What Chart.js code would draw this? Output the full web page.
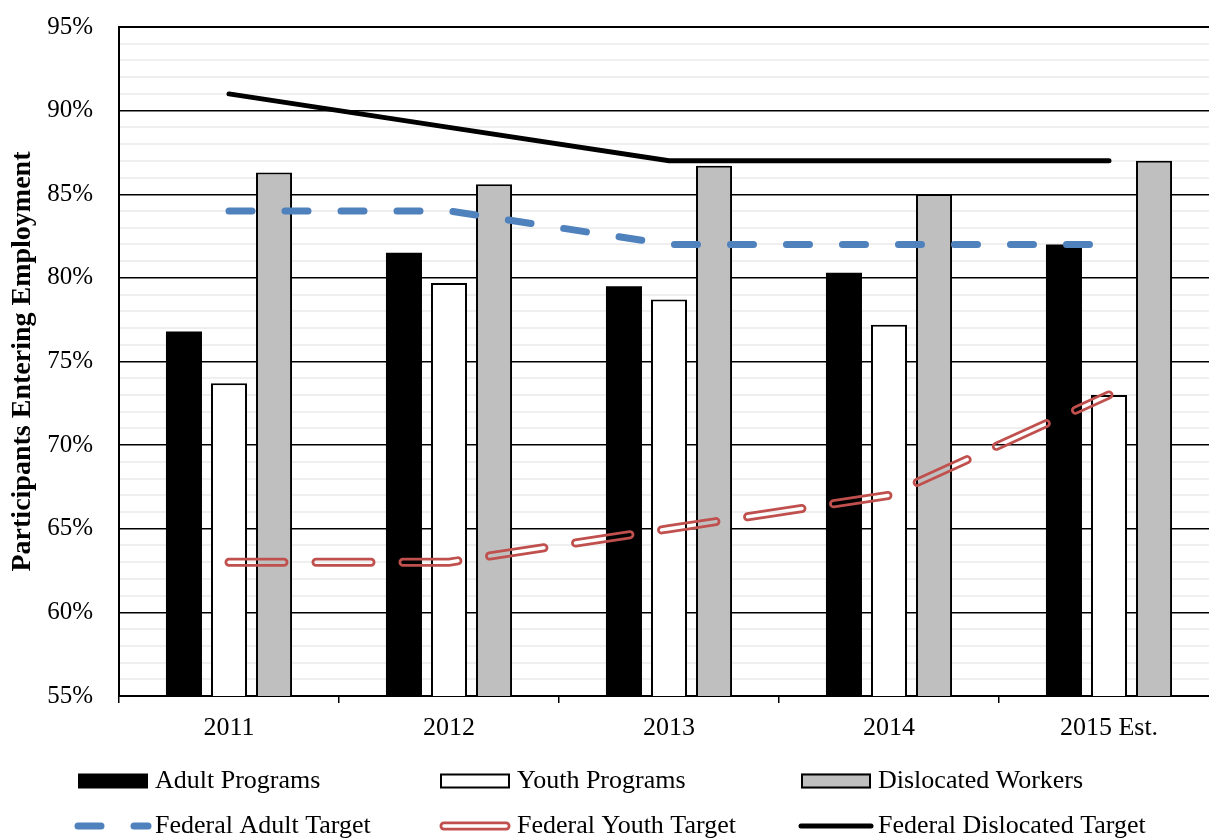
<!DOCTYPE html>
<html>
<head>
<meta charset="utf-8">
<title>Participants Entering Employment</title>
<script src="https://cdn.jsdelivr.net/npm/chart.js@4.4.1/dist/chart.umd.min.js"></script>
<style>
  html, body { margin: 0; padding: 0; background: #fff; overflow: hidden; }
  #wrap { position: relative; width: 1230px; height: 838px; }
</style>
</head>
<body>
<div id="wrap"><canvas id="chart"></canvas></div>
<script>
// Program years
const years = ['2011', '2012', '2013', '2014', '2015 Est.'];

// Share of participants entering employment (%)
const adultPrograms = [76.8, 81.5, 79.5, 80.3, 82.0];
const youthPrograms = [73.7, 79.7, 78.7, 77.2, 73.0];
const dislocatedWorkers = [86.3, 85.6, 86.7, 85.0, 87.0];

// Federal performance targets (%)
const federalAdultTarget = [84, 84, 82, 82, 82];
const federalYouthTarget = [63, 63, 65, 67, 73];
const federalDislocatedTarget = [91, 89, 87, 87, 87];

// Y axis range and tick step
const yMin = 55, yMax = 95, yMajorStep = 5;

const FONT = "'Liberation Serif', 'Times New Roman', serif";
const RED = '#C0504D';
const BLUE = '#4F81BD';
const BLUE_DASH = [23, 33];
const RED_DASH = [55, 32];

// Draws the double-stroke youth target: a wide red stroke with its core cut out
const hollowLine = {
  id: 'hollowLine',
  beforeDatasetDraw(chart, args) {
    const ds = chart.data.datasets[args.index];
    if (ds._role === 'core') return false;
    if (ds._role !== 'outline') return;
    const coreIdx = chart.data.datasets.findIndex(d => d._role === 'core');
    const off = document.createElement('canvas');
    off.width = chart.canvas.width;
    off.height = chart.canvas.height;
    const octx = off.getContext('2d');
    const ca = chart.chartArea;
    octx.save();
    octx.beginPath();
    octx.rect(ca.left, ca.top - 10, ca.right - ca.left, ca.bottom - ca.top + 10);
    octx.clip();
    args.meta.dataset.draw(octx, ca);
    octx.globalCompositeOperation = 'destination-out';
    chart.getDatasetMeta(coreIdx).dataset.draw(octx, ca);
    octx.restore();
    chart.ctx.drawImage(off, 0, 0, chart.width, chart.height);
    return false;
  }
};

// Two-row legend under the axis
const bottomLegend = {
  id: 'bottomLegend',
  afterDraw(chart) {
    const ctx = chart.ctx;
    const ds = chart.data.datasets;
    const cols = [78, 440, 801];
    const swW = 70;
    const rows = [781, 826];
    ctx.save();
    ctx.font = '26px ' + FONT;
    ctx.fillStyle = '#000';
    ctx.textBaseline = 'middle';
    ctx.textAlign = 'left';
    const items = ds.filter(d => d._role !== 'core');
    items.forEach((d, i) => {
      const r = Math.floor(i / 3), c = i % 3;
      const x = cols[c], y = rows[r];
      ctx.save();
      if (d.type === 'bar') {
        ctx.fillStyle = d.backgroundColor;
        ctx.fillRect(x, y - 7.5, swW, 15);
        if (d.borderWidth) {
          ctx.strokeStyle = d.borderColor;
          ctx.lineWidth = d.borderWidth;
          ctx.strokeRect(x + 1, y - 6.5, swW - 2, 13);
        }
      } else {
        ctx.beginPath();
        ctx.lineCap = 'round';
        ctx.strokeStyle = d.borderColor;
        ctx.lineWidth = d.borderWidth;
        if (d._role === 'outline') {
          ctx.moveTo(x + 4, y); ctx.lineTo(x + swW - 4, y); ctx.stroke();
          ctx.beginPath();
          ctx.strokeStyle = '#fff';
          ctx.lineWidth = 3.5;
          ctx.moveTo(x + 4, y); ctx.lineTo(x + swW - 4, y); ctx.stroke();
        } else {
          ctx.setLineDash(d.borderDash || []);
          ctx.moveTo(x, y); ctx.lineTo(x + swW, y); ctx.stroke();
        }
      }
      ctx.restore();
      ctx.fillText(d.label, x + swW + 7, y);
    });
    ctx.restore();
  }
};

const datasets = [
  { type: 'bar', label: 'Adult Programs', data: adultPrograms,
    backgroundColor: '#000000', borderColor: '#000000', borderWidth: 0, order: 2 },
  { type: 'bar', label: 'Youth Programs', data: youthPrograms,
    backgroundColor: '#ffffff', borderColor: '#000000', borderWidth: 2, order: 2 },
  { type: 'bar', label: 'Dislocated Workers', data: dislocatedWorkers,
    backgroundColor: '#bfbfbf', borderColor: '#000000', borderWidth: 2, order: 2 },
  { type: 'line', label: 'Federal Adult Target', data: federalAdultTarget,
    borderColor: BLUE, borderWidth: 7, borderDash: BLUE_DASH, borderCapStyle: 'round',
    pointRadius: 0, tension: 0, fill: false, order: 1 },
  { type: 'line', label: 'Federal Youth Target', data: federalYouthTarget, _role: 'outline',
    borderColor: RED, borderWidth: 9, borderDash: RED_DASH, borderCapStyle: 'round',
    pointRadius: 0, tension: 0, fill: false, order: 1 },
  { type: 'line', label: 'Federal Youth Target core', data: federalYouthTarget, _role: 'core',
    borderColor: '#000', borderWidth: 3.5, borderDash: RED_DASH, borderCapStyle: 'round',
    borderDashOffset: 0, pointRadius: 0, tension: 0, fill: false, order: 1 },
  { type: 'line', label: 'Federal Dislocated Target', data: federalDislocatedTarget,
    borderColor: '#000000', borderWidth: 5, borderCapStyle: 'round', borderJoinStyle: 'miter',
    pointRadius: 0, tension: 0, fill: false, order: 1 }
];

new Chart(document.getElementById('chart'), {
  type: 'bar',
  data: { labels: years, datasets },
  plugins: [hollowLine, bottomLegend],
  options: {
    responsive: true,
    maintainAspectRatio: false,
    animation: false,
    events: [],
    layout: { padding: { left: 0, top: 27, right: 11, bottom: 0 } },
    datasets: {
      bar: { categoryPercentage: 0.614, barPercentage: 0.8 }
    },
    plugins: { legend: { display: false }, tooltip: { enabled: false } },
    scales: {
      x: {
        offset: true,
        grid: { offset: true, drawOnChartArea: false, drawTicks: true, tickLength: 7,
                color: '#000', lineWidth: 1.5 },
        border: { color: '#000', width: 2 },
        ticks: { color: '#000', font: { family: FONT, size: 26 }, padding: 10, maxRotation: 0 },
        afterFit(scale) { scale.height = 142; }
      },
      y: {
        min: yMin, max: yMax,
        grid: {
          drawTicks: false,
          color: c => (c.tick && c.tick.value % yMajorStep === 0) ? '#000' : '#efefef',
          lineWidth: c => (c.tick && c.tick.value === yMax) ? 2 : (c.tick && c.tick.value % yMajorStep === 0 ? 1.5 : 2)
        },
        border: { color: '#000', width: 2 },
        ticks: {
          stepSize: 1,
          autoSkip: false,
          color: '#000',
          padding: 26,
          font: { family: FONT, size: 25 },
          callback: v => (v % yMajorStep === 0 ? v + '%' : '')
        },
        title: {
          display: true,
          text: 'Participants Entering Employment',
          color: '#000',
          font: { family: FONT, size: 28, weight: 'bold' },
          padding: { top: 6, bottom: 0 }
        },
        afterFit(scale) {
          scale.width = 119;
          scale.paddingTop = 10;
          scale.paddingBottom = 10;
        }
      }
    }
  }
});
</script>
</body>
</html>
